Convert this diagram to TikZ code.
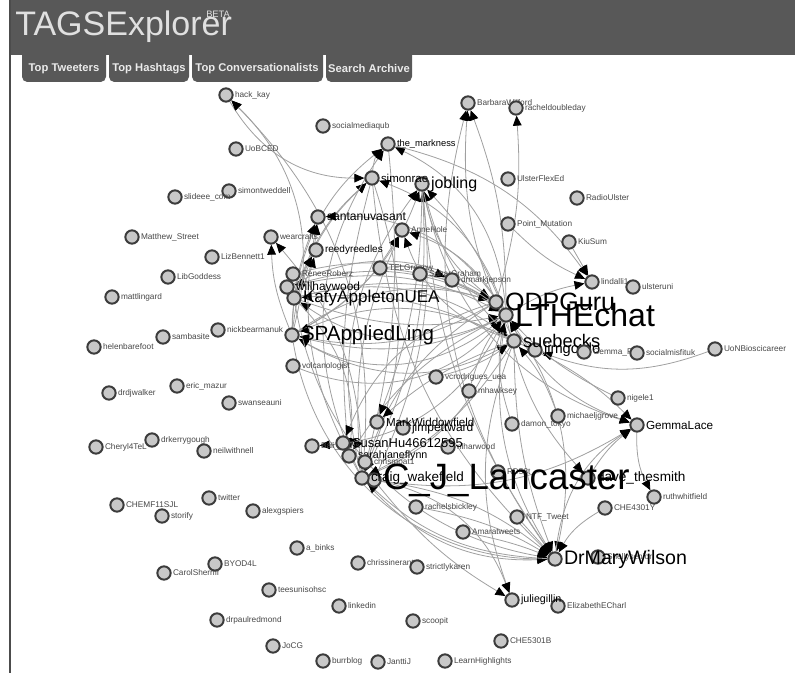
\documentclass[tikz,border=0pt]{standalone}
\usepackage{fontspec}
\setmainfont{Liberation Sans}
\usetikzlibrary{arrows.meta,backgrounds}
\newcommand{\fsz}[1]{\fontsize{#1}{#1}\selectfont}
\definecolor{hdrgray}{HTML}{585858}
\definecolor{nodefill}{HTML}{C8C8C8}
\definecolor{nodeline}{HTML}{3C3C3C}
\definecolor{edgegray}{HTML}{A0A0A0}
\tikzset{
  usr/.style={circle, draw=nodeline, fill=nodefill, line width=1.5pt, minimum size=10pt, inner sep=0pt},
  nm/.style={font=\fsz{6.2}, text=black!72, inner sep=0.8pt},
  bignm/.style={text=black, inner sep=0.8pt},
  link/.style={draw=edgegray, line width=0.6pt, -{Triangle[length=7.5pt,width=6.5pt,color=black]}},
  tabbox/.style={fill=hdrgray, rounded corners=4pt},
  tabtxt/.style={font=\bfseries\fsz{8.4}, text=white!92!black},
}

\begin{document}
\begin{tikzpicture}[x=0.75pt, y=-0.75pt]
		\useasboundingbox (0, 0) rectangle (795, 673);
		%%%%% HEADER %%%%%
		
		\fill[hdrgray] (10, 0) rectangle (795, 55);
		\draw[line width=1.5pt, color=black!70] (10, 0) -- (10, 673);
		\node[anchor=base west, font=\fsz{25.5}, text=black!12, inner sep=0pt] (title) at (15, 36) {TAGSExplorer};
		\node[anchor=base west, font=\fsz{7}, text=black!12, inner sep=0pt] (beta) at (206, 18) {BETA};
		
		\fill[tabbox] (22, 45) -- (22, 82) -- (106, 82) -- (106, 45) -- cycle;
		\fill[tabbox] (109, 45) -- (109, 82) -- (189, 82) -- (189, 45) -- cycle;
		\fill[tabbox] (192, 45) -- (192, 82) -- (323, 82) -- (323, 45) -- cycle;
		\fill[tabbox] (326, 45) -- (326, 82) -- (412, 82) -- (412, 45) -- cycle;
		\node[tabtxt] (tab1) at (64, 69) {Top Tweeters};
		\node[tabtxt] (tab2) at (149, 69) {Top Hashtags};
		\node[tabtxt] (tab3) at (257, 69) {Top Conversationalists};
		\node[tabtxt] (tab4) at (369, 69) {Search Archive};
		
		%%%%% USERS %%%%%
		
		\node[usr, label={[nm]right:hack\_kay}] (hackkay) at (226, 95) {};
		\node[usr, label={[nm]right:UoBCED}] (uobced) at (236, 149) {};
		\node[usr, label={[nm]right:simontweddell}] (simontweddell) at (229, 191) {};
		\node[usr, label={[nm]right:slideee\_com}] (slideee) at (175, 197) {};
		\node[usr, label={[nm]right:Matthew\_Street}] (matthew) at (132, 237) {};
		\node[usr, label={[nm]right:wearcrafts}] (wearcrafts) at (271, 237) {};
		\node[usr, label={[nm]right:LizBennett1}] (lizbennett) at (212, 257) {};
		\node[usr, label={[nm]right:LibGoddess}] (libgoddess) at (168, 277) {};
		\node[usr, label={[nm]right:mattlingard}] (mattlingard) at (112, 297) {};
		\node[usr, label={[nm]right:nickbearmanuk}] (nickbearman) at (218, 330) {};
		\node[usr, label={[nm]right:sambasite}] (sambasite) at (163, 337) {};
		\node[usr, label={[nm]right:helenbarefoot}] (helenbarefoot) at (94, 347) {};
		\node[usr, label={[nm]right:eric\_mazur}] (ericmazur) at (177, 386) {};
		\node[usr, label={[nm]right:drdjwalker}] (drdjwalker) at (109, 393) {};
		\node[usr, label={[nm]right:swanseauni}] (swanseauni) at (229, 403) {};
		\node[usr, label={[nm]right:drkerrygough}] (drkerrygough) at (152, 440) {};
		\node[usr, label={[nm]right:Cheryl4TeL}] (cheryl) at (96, 447) {};
		\node[usr, label={[nm]right:neilwithnell}] (neilwithnell) at (204, 451) {};
		
		\node[usr, label={[nm]right:CHEMF11SJL}] (chemf) at (117, 505) {};
		\node[usr, label={[nm]right:storify}] (storify) at (162, 516) {};
		\node[usr, label={[nm]right:twitter}] (twitter) at (209, 498) {};
		\node[usr, label={[nm]right:alexgspiers}] (alexgspiers) at (253, 511) {};
		\node[usr, label={[nm]right:a\_binks}] (abinks) at (297, 548) {};
		\node[usr, label={[nm]right:BYOD4L}] (byod) at (215, 564) {};
		\node[usr, label={[nm]right:CarolSherriff}] (carolsherriff) at (164, 573) {};
		\node[usr, label={[nm]right:teesunisohsc}] (teesuni) at (269, 590) {};
		\node[usr, label={[nm]right:drpaulredmond}] (drpaulredmond) at (217, 620) {};
		\node[usr, label={[nm]right:JoCG}] (jocg) at (273, 646) {};
		\node[usr, label={[nm]right:burrblog}] (burrblog) at (323, 661) {};
		\node[usr, label={[nm]right:JanttiJ}] (janttij) at (378, 662) {};
		\node[usr, label={[nm]right:LearnHighlights}] (learnhl) at (445, 661) {};
		\node[usr, label={[nm]right:linkedin}] (linkedin) at (339, 606) {};
		\node[usr, label={[nm]right:scoopit}] (scoopit) at (413, 621) {};
		\node[usr, label={[nm]right:CHE5301B}] (che5301b) at (501, 641) {};
		\node[usr, label={[nm]right:chrissinerantzi}] (chrissinerantzi) at (358, 563) {};
		\node[usr, label={[nm]right:strictlykaren}] (strictlykaren) at (417, 567) {};
		
		\node[usr, label={[nm]right:ElizabethECharl}] (elizabeth) at (558, 606) {};
		\node[usr, label={[bignm, font=\fsz{8}]right:juliegillin}] (juliegillin) at (512, 600) {};
		\node[usr, label={[nm]right:Shellysenior}] (shellysenior) at (598, 557) {};
		\node[usr, label={[bignm, font=\fsz{14.7}]right:DrMaryWilson}] (drmarywilson) at (555, 559) {};
		\node[usr, label={[nm]right:Amaratweets}] (amaratweets) at (463, 532) {};
		\node[usr, label={[nm]right:NTF\_Tweet}] (ntftweet) at (517, 517) {};
		\node[usr, label={[nm]right:rachelsbickley}] (rachelsbickley) at (416, 507) {};
		\node[usr, label={[nm]right:CHE4301Y}] (che4301y) at (605, 508) {};
		\node[usr, label={[nm]right:ruthwhitfield}] (ruthwhitfield) at (654, 497) {};
		\node[usr, label={[bignm, font=\fsz{10.2}]right:dave\_thesmith}] (davesmith) at (588, 478) {};
		\node[usr, label={[nm]right:RD53t}] (rd53t) at (498, 472) {};
		
		\node[usr, label={[nm]right:nlharwood}] (nlharwood) at (448, 447) {};
		\node[usr, label={[nm]right:damon\_tokyo}] (damon) at (512, 424) {};
		\node[usr, label={[nm]right:michaeljgrove}] (michaeljgrove) at (558, 416) {};
		\node[usr, label={[nm]right:nigele1}] (nigele1) at (618, 398) {};
		\node[usr, label={[bignm, font=\fsz{8.8}]right:GemmaLace}] (gemmalace) at (637, 425) {};
		\node[usr, label={[nm]right:mhawksey}] (mhawksey) at (469, 391) {};
		\node[usr, label={[nm]right:vcrodrigues\_uea}] (vcrodrigues) at (436, 377) {};
		\node[usr, label={[nm]right:volcanologist}] (volcanologist) at (293, 366) {};
		
		\node[usr, label={[bignm, font=\fsz{27.5}]right:C\_J\_Lancaster}] (lancaster) at (374, 480) {};
		\node[usr, label={[nm]right:Bali\_Maha}] (balimaha) at (312, 446) {};
		\node[usr, label={[bignm, font=\fsz{9.7}]right:SusanHu46612595}] (susanhu) at (343, 443) {};
		\node[usr, label={[bignm, font=\fsz{8}]right:sarahjaneflynn}] (sarahjane) at (349, 456) {};
		\node[usr, label={[nm]right:chrismoat1}] (chrismoat) at (365, 462) {};
		\node[usr, label={[bignm, font=\fsz{10.1}]right:craig\_wakefield}] (craig) at (362, 478) {};
		\node[usr, label={[bignm, font=\fsz{9}]right:jimpettward}] (jimpettward) at (403, 428) {};
		\node[usr, label={[bignm, font=\fsz{8.7}]right:MarkWiddowfield}] (markwiddowfield) at (377, 422) {};
		
		\node[usr, label={[bignm, font=\fsz{15.4}]right:SPAppliedLing}] (spappliedling) at (292, 335) {};
		\node[usr, label={[bignm, font=\fsz{12.8}]right:KatyAppletonUEA}] (katy) at (294, 298) {};
		\node[usr, label={[bignm, font=\fsz{8.9}]right:willhaywood}] (willhaywood) at (287, 287) {};
		\node[usr, label={[nm]right:ReneeRoberz}] (reneeroberz) at (293, 274) {};
		\node[usr, label={[bignm, font=\fsz{7.5}]right:reedyreedles}] (reedyreedles) at (316, 250) {};
		\node[usr, label={[bignm, font=\fsz{9.1}]right:santanuvasant}] (santanuvasant) at (318, 217) {};
		\node[usr, label={[nm]right:socialmediaqub}] (socialmediaqub) at (323, 126) {};
		\node[usr, label={[bignm, font=\fsz{7}]right:the\_markness}] (themarkness) at (388, 144) {};
		\node[usr, label={[bignm, font=\fsz{12}]right:jobling}] (jobling) at (422, 184) {};
		\node[usr, label={[bignm, font=\fsz{8.6}]right:simonrae}] (simonrae) at (372, 178) {};
		\node[usr, label={[nm]right:AnneHole}] (annehole) at (402, 230) {};
		\node[usr, label={[nm]right:TELGreenw}] (telgreenw) at (380, 268) {};
		\node[usr, label={[nm]right:SaharGraham}] (sahargraham) at (420, 274) {};
		\node[usr, label={[nm]right:drmarkjepson}] (drmarkjepson) at (452, 280) {};
		
		\node[usr, label={[bignm, font=\fsz{11}]right:jimgordo}] (jimgordo) at (535, 350) {};
		\node[usr, label={[bignm, font=\fsz{13.7}]right:suebecks}] (suebecks) at (514, 341) {};
		\node[usr, label={[bignm, font=\fsz{24}]right:LTHEchat}] (lthechat) at (506, 315) {};
		\node[usr, label={[bignm, font=\fsz{18.8}]right:ODPGuru}] (odpguru) at (496, 302) {};
		\node[usr, label={[nm]right:Gemma\_Finn}] (gemmafinn) at (584, 352) {};
		\node[usr, label={[nm]right:socialmisfituk}] (socialmisfit) at (637, 353) {};
		\node[usr, label={[nm]right:UoNBioscicareer}] (uonbio) at (715, 349) {};
		\node[usr, label={[nm]right:lindalli1}] (lindalli) at (592, 282) {};
		\node[usr, label={[nm]right:ulsteruni}] (ulsteruni) at (633, 287) {};
		\node[usr, label={[nm]right:KiuSum}] (kiusum) at (569, 242) {};
		\node[usr, label={[nm]right:RadioUlster}] (radioulster) at (577, 198) {};
		\node[usr, label={[nm]right:Point\_Mutation}] (pointmutation) at (508, 224) {};
		\node[usr, label={[nm]right:UlsterFlexEd}] (ulsterflexed) at (508, 179) {};
		\node[usr, label={[nm]right:BarbaraWilford}] (barbarawilford) at (468, 103) {};
		\node[usr, label={[nm]right:racheldoubleday}] (racheldoubleday) at (516, 108) {};
		
		%%%%% MENTIONS %%%%%
		
		\begin{scope}[on background layer]
		\foreach \s/\t/\b in {spappliedling/odpguru/25, spappliedling/lthechat/-20, spappliedling/suebecks/-30,
			katy/odpguru/15, katy/lthechat/-15, katy/suebecks/25, willhaywood/odpguru/30, willhaywood/lthechat/20,
			reneeroberz/lthechat/25, odpguru/spappliedling/20, lthechat/katy/30, suebecks/spappliedling/-25,
			lthechat/spappliedling/35, suebecks/katy/-15, odpguru/willhaywood/-20, volcanologist/lthechat/-35,
			telgreenw/odpguru/10, sahargraham/lthechat/15, telgreenw/drmarkjepson/15,
			spappliedling/simonrae/20, katy/simonrae/15, lthechat/simonrae/-25, odpguru/jobling/20,
			suebecks/jobling/15, lthechat/jobling/-10, craig/jobling/25, lancaster/jobling/-15,
			spappliedling/jobling/-20, katy/themarkness/20, lthechat/themarkness/-30, craig/themarkness/30,
			simonrae/themarkness/20, spappliedling/santanuvasant/10, katy/santanuvasant/-10,
			lthechat/santanuvasant/-30, craig/santanuvasant/20, spappliedling/reedyreedles/15,
			katy/reedyreedles/-10, lthechat/annehole/-20, craig/annehole/15, suebecks/annehole/25,
			spappliedling/annehole/-15, spappliedling/hackkay/-30, hackkay/simonrae/-30, craig/hackkay/-25,
			spappliedling/wearcrafts/10, craig/wearcrafts/-20, suebecks/barbarawilford/15,
			lthechat/barbarawilford/-10, drmarywilson/barbarawilford/25, odpguru/racheldoubleday/-10,
			lthechat/lindalli/10, kiusum/lindalli/0, pointmutation/lindalli/-10, themarkness/lindalli/20,
			lthechat/drmarywilson/-20, suebecks/drmarywilson/-10, odpguru/drmarywilson/25,
			craig/drmarywilson/-25, lancaster/drmarywilson/15, spappliedling/drmarywilson/-40,
			katy/drmarywilson/-35, simonrae/drmarywilson/-20, jobling/drmarywilson/-15,
			rachelsbickley/drmarywilson/10, amaratweets/drmarywilson/5, ntftweet/drmarywilson/0,
			che4301y/drmarywilson/-15, lthechat/gemmalace/-20, suebecks/gemmalace/10, craig/gemmalace/-20,
			drmarywilson/gemmalace/25, jobling/gemmalace/-30, gemmalace/ruthwhitfield/-15,
			davesmith/gemmalace/10, uonbio/jimgordo/20, lthechat/craig/25, odpguru/craig/-20,
			suebecks/craig/15, simonrae/craig/20, jobling/craig/15, themarkness/craig/10,
			drmarywilson/craig/20, katy/sarahjane/25, lthechat/sarahjane/-15, simonrae/sarahjane/-10,
			suebecks/markwiddowfield/-10, jobling/markwiddowfield/10, lthechat/balimaha/30,
			odpguru/susanhu/-25, craig/juliegillin/30, lancaster/juliegillin/-10, suebecks/juliegillin/-20,
			mhawksey/lthechat/10, vcrodrigues/suebecks/-10, damon/lthechat/15, michaeljgrove/suebecks/-10,
			jimgordo/lthechat/10, lthechat/davesmith/-15, nigele1/lthechat/10}
			\draw[link] (\s) to[bend left=\b] (\t);
		\end{scope}
		
		%%%%% END %%%%%
\end{tikzpicture}
\end{document}
